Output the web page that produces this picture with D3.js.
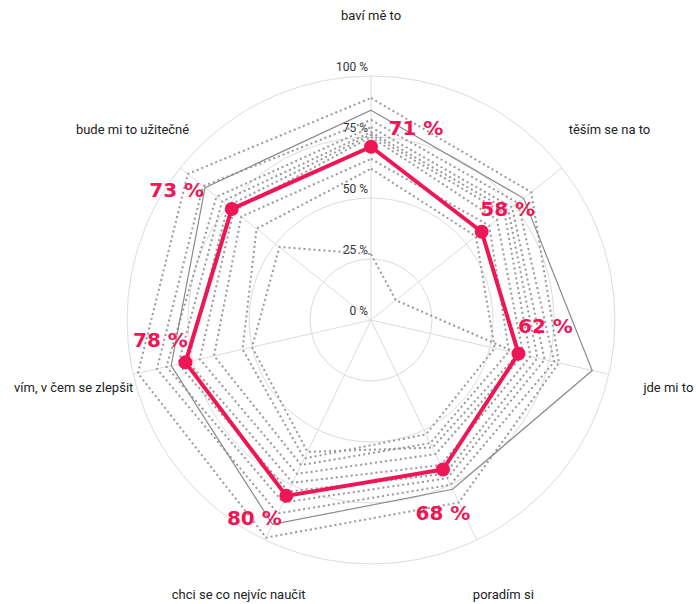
<!DOCTYPE html>
<html>
<head>
<meta charset="utf-8">
<script src="https://cdn.jsdelivr.net/npm/d3@7"></script>
<style>
  body { margin: 0; background: #fff; }
  svg { display: block; }
</style>
</head>
<body>
<div id="chart"></div>
<script>
// axes, clockwise from the top
const categories = ["baví mě to", "těším se na to", "jde mi to", "poradím si",
    "chci se co nejvíc naučit", "vím, v čem se zlepšit", "bude mi to užitečné"];

const tickValues = [0, 25, 50, 75, 100];
const tickLabels = ["0 %", "25 %", "50 %", "75 %", "100 %"];

// highlighted series
const mainValues = [71, 58, 62, 68, 80, 78, 73];

// thin solid grey series
const solidValues = [86, 80, 93, 77, 93, 84, 87];

// dotted grey series
const dotted1 = [91, 84, 79, 83, 99, 98, 96];
const dotted2 = [82, 77, 77, 75, 88, 90, 88];
const dotted3 = [79, 74, 73, 72, 83, 86, 81];
const dotted4 = [77, 72, 70, 70, 78, 81, 78];
const dotted5 = [76, 70, 67, 66, 74, 77, 75];
const dotted6 = [75, 66, 64, 61, 70, 72, 72];
const dotted7 = [66, 62, 58, 56, 66, 66, 68];
const dotted8 = [62, 55, 52, 52, 63, 54, 60];
const dotted9 = [27, 13, 62, 58, 60, 50, 48];
const dottedSeries = [dotted1, dotted2, dotted3, dotted4, dotted5, dotted6, dotted7, dotted8, dotted9];

// label nudges for the highlighted values (px)
const labelShift = [[45, -19], [26, -23], [27, -28], [0, 44], [-32, 22], [-25, -22], [-55, -19]];

const width = 696, height = 604;
const cx = 371, cy = 320, R = 244;
const pink = "#ef1656";

const svg = d3.select("#chart")
    .append("svg")
    .attr("width", width)
    .attr("height", height);

const g = svg.append("g")
    .attr("transform", `translate(${cx}, ${cy})`);

const r = d3.scaleLinear().domain([0, 100]).range([0, R]);
const angle = d3.scaleLinear().domain([0, categories.length]).range([0, 2 * Math.PI]);

const px = (i, v) => r(v) * Math.sin(angle(i));
const py = (i, v) => -r(v) * Math.cos(angle(i));

// grid rings
g.append("g")
    .selectAll("circle")
    .data(tickValues.filter(d => d > 0))
    .join("circle")
    .attr("r", d => r(d))
    .attr("fill", "none")
    .attr("stroke", "#dcdcdc")
    .attr("stroke-width", 1);

// spokes
g.append("g")
    .selectAll("line")
    .data(categories)
    .join("line")
    .attr("x1", 0).attr("y1", 0)
    .attr("x2", (d, i) => px(i, 100))
    .attr("y2", (d, i) => py(i, 100))
    .attr("stroke", "#dcdcdc")
    .attr("stroke-width", 1);

// tick labels
g.append("g")
    .selectAll("text")
    .data(tickValues)
    .join("text")
    .attr("x", -3)
    .attr("y", d => -r(d) - 5)
    .attr("text-anchor", "end")
    .style("font-family", "Roboto, sans-serif")
    .style("font-size", "12px")
    .style("fill", "#333")
    .text((d, i) => tickLabels[i]);

// axis labels
g.append("g")
    .selectAll("text")
    .data(categories)
    .join("text")
    .attr("x", (d, i) => px(i, 125))
    .attr("y", (d, i) => py(i, 125))
    .attr("dy", "0.35em")
    .attr("text-anchor", "middle")
    .style("font-family", "Roboto, sans-serif")
    .style("font-size", "13px")
    .style("fill", "#222")
    .text(d => d);

const radar = d3.lineRadial()
    .angle((d, i) => angle(i))
    .radius(d => r(d))
    .curve(d3.curveLinearClosed);

// dotted series
g.append("g")
    .selectAll("path")
    .data(dottedSeries)
    .join("path")
    .attr("d", radar)
    .attr("fill", "none")
    .attr("stroke", "#999")
    .attr("stroke-width", 2)
    .attr("stroke-dasharray", "2 3");

// solid grey series
g.append("path")
    .datum(solidValues)
    .attr("d", radar)
    .attr("fill", "none")
    .attr("stroke", "#8a8a8a")
    .attr("stroke-width", 1.2);

// highlighted series
g.append("path")
    .datum(mainValues)
    .attr("d", radar)
    .attr("fill", "none")
    .attr("stroke", pink)
    .attr("stroke-width", 4)
    .attr("stroke-linejoin", "round");

g.append("g")
    .selectAll("circle")
    .data(mainValues)
    .join("circle")
    .attr("cx", (d, i) => px(i, d))
    .attr("cy", (d, i) => py(i, d))
    .attr("r", 7)
    .attr("fill", pink);

g.append("g")
    .selectAll("text")
    .data(mainValues)
    .join("text")
    .attr("x", (d, i) => px(i, d) + labelShift[i][0])
    .attr("y", (d, i) => py(i, d) + labelShift[i][1])
    .attr("dy", "0.35em")
    .attr("text-anchor", "middle")
    .style("font-family", "'DejaVu Sans', sans-serif")
    .style("font-weight", "bold")
    .style("font-size", "20px")
    .style("fill", pink)
    .text(d => `${d} %`);
</script>
</body>
</html>
